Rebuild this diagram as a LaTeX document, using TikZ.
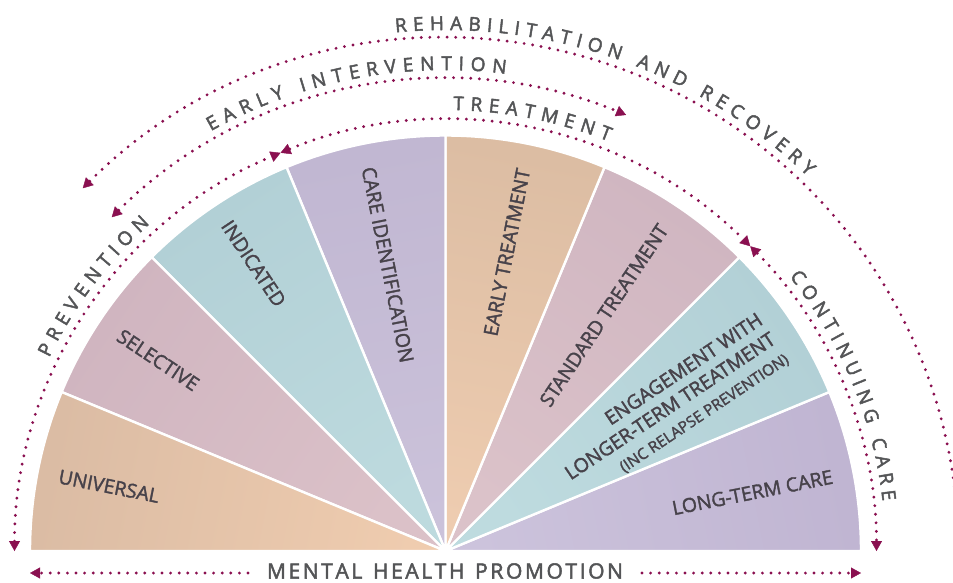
\documentclass[tikz,border=0pt]{standalone}
\usepackage{fontspec}
\setmainfont{Open Sans}
\newfontfamily\lblfam{Open Sans}[FakeBold=1.8]
\newfontfamily\arcfam{Open Sans}[FakeBold=2.4]
\usetikzlibrary{decorations.text,arrows.meta,calc}
\definecolor{dotc}{HTML}{8A1050}
\definecolor{arct}{HTML}{545557}
\definecolor{lblt}{HTML}{47424A}
\definecolor{ltO}{HTML}{C0B5D2}\definecolor{ltI}{HTML}{CCC3DC}
\definecolor{enO}{HTML}{B2D0D6}\definecolor{enI}{HTML}{BEDBDF}
\definecolor{stO}{HTML}{D0B6C1}\definecolor{stI}{HTML}{DBC2C9}
\definecolor{etO}{HTML}{DCBDA3}\definecolor{etI}{HTML}{EECCB0}
\definecolor{ciO}{HTML}{C1B7D2}\definecolor{ciI}{HTML}{CBC2DA}
\definecolor{inO}{HTML}{B2D0D6}\definecolor{inI}{HTML}{BDDADE}
\definecolor{seO}{HTML}{D0B5C0}\definecolor{seI}{HTML}{DBC1C8}
\definecolor{unO}{HTML}{DBBCA4}\definecolor{unI}{HTML}{EFCCAF}
\newcommand\arcfnt{\arcfam\fontsize{19}{22}\selectfont}
\newcommand\botfnt{\arcfam\fontsize{21}{24}\selectfont}
\newcommand\lblfnt{\lblfam\fontsize{19.5}{23.3}\selectfont}
\newcommand\smlfnt{\lblfam\fontsize{15.5}{18.4}\selectfont}
\begin{document}
\begin{tikzpicture}[x=1pt,y=1pt,
  sector/.style={draw=white, line width=2.4pt, line join=round},
  lbl/.style={font=\lblfnt, text=lblt, inner sep=0pt},
  dots/.style={draw=dotc, line width=3.2pt, line cap=round, dash pattern=on 0pt off 8.6pt},
  tipA/.tip={Triangle[length=10pt,width=11pt,line width=0.4pt]},
  arctext/.style={decorate, decoration={text along path, text={|\arcfnt|#1}, text align={fit to path}, text color=arct}},
  bottext/.style={decorate, decoration={text along path, text={|\botfnt|#1}, text align={fit to path}, text color=arct}}]
\useasboundingbox (0,0) rectangle (953,-582);
\clip (0,0) rectangle (953,-582);
\coordinate (C) at (445.5,-551);

% fan sectors
\foreach \a/\o/\i in {0/ltO/ltI,22.5/enO/enI,45/stO/stI,67.5/etO/etI,90/ciO/ciI,112.5/inO/inI,135/seO/seI,157.5/unO/unI}{
  \pgfmathsetmacro\b{\a+22.5}
  \pgfmathsetmacro\sa{\a-78.75}
  \path[sector, top color=\o, bottom color=\i, shading angle=\sa] (C) -- ++(\a:415.5) arc[start angle=\a, end angle=\b, radius=415.5] -- cycle;
}

% sector labels
\node[lbl, rotate=-11.25] (universal) at ($(C)+(169.1:342.7)$) {UNIVERSAL};
\node[lbl, rotate=-33.75] (selective) at ($(C)+(146.4:345)$) {SELECTIVE};
\node[lbl, rotate=-56.25] (indicated) at ($(C)+(123.7:345.7)$) {INDICATED};
\node[lbl, rotate=-78.75] (careid) at ($(C)+(101.4:292)$) {CARE IDENTIFICATION};
\node[lbl, rotate=78.75] (earlytr) at ($(C)+(78.4:305)$) {EARLY TREATMENT};
\node[lbl, rotate=56.25] (stdtr) at ($(C)+(56.1:284)$) {STANDARD TREATMENT};
\node[lbl, rotate=33.75, anchor=east, align=right] (engage) at ($(C)+(33.0:391.5)$)
  {ENGAGEMENT WITH\\LONGER-TERM TREATMENT\\{\smlfnt (INC RELAPSE PREVENTION)}};
\node[lbl, rotate=11.25] (longterm) at ($(C)+(10.8:312.5)$) {LONG-TERM CARE};

% dotted arcs
\coordinate (pv0) at ($(C)+(180:431)$);
\coordinate (tr0) at ($(C)+(112.5:431)$);
\coordinate (cc0) at ($(C)+(45:431)$);
\coordinate (ei0) at ($(C)+(135:472)$);
\coordinate (rr0) at ($(C)+(135:513)$);
\draw[dots, tipA-tipA] (pv0) arc[start angle=180, end angle=112.5, radius=431];
\draw[dots, tipA-tipA] (tr0) arc[start angle=112.5, end angle=45, radius=431];
\draw[dots, tipA-tipA] (cc0) arc[start angle=45, end angle=0, radius=431];
\draw[dots, tipA-tipA] (ei0) arc[start angle=135, end angle=67.5, radius=472];
\draw[dots, tipA-] (rr0) arc[start angle=135, end angle=0, radius=513];

% arc texts
\path[arctext={REHABILITATION AND RECOVERY}] ($(C)+(95.5:521)$) arc[start angle=95.5, end angle=46, radius=521];
\path[arctext={EARLY INTERVENTION}] ($(C)+(119.2:481)$) arc[start angle=119.2, end angle=82.8, radius=481];
\path[arctext={TREATMENT}] ($(C)+(89:441)$) arc[start angle=89, end angle=68.3, radius=441];
\path[arctext={PREVENTION}] ($(C)+(154:441)$) arc[start angle=154, end angle=132.1, radius=441];
\path[arctext={CONTINUING CARE}] ($(C)+(38.6:440)$) arc[start angle=38.6, end angle=6.5, radius=440];

% bottom
\path[bottext={MENTAL HEALTH PROMOTION}] (267,-578.5) -- (623,-578.5);
\coordinate (ml) at (248,-573);
\coordinate (mlend) at (30,-573);
\coordinate (mr) at (642,-573);
\coordinate (mrend) at (861,-573);
\draw[dots, -tipA] (ml) -- (mlend);
\draw[dots, -tipA] (mr) -- (mrend);
\end{tikzpicture}
\end{document}
